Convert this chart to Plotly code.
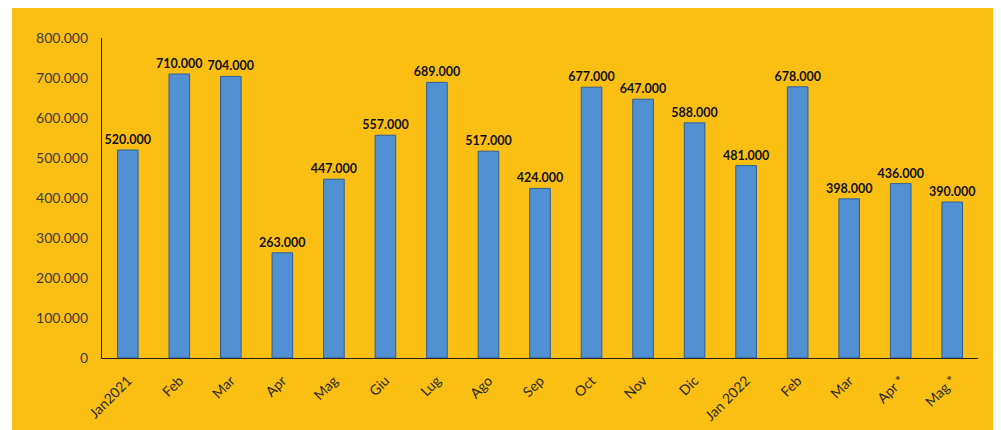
import plotly.graph_objects as go

mesi = ["Jan2021", "Feb", "Mar", "Apr", "Mag", "Giu", "Lug", "Ago", "Sep",
        "Oct", "Nov", "Dic", "Jan 2022", "Feb", "Mar", "Apr *", "Mag *"]
valori = [520000, 710000, 704000, 263000, 447000, 557000, 689000, 517000, 424000,
          677000, 647000, 588000, 481000, 678000, 398000, 436000, 390000]

# categorie uniche (Feb/Mar/Apr/Mag si ripetono) -> posizioni numeriche
x_pos = list(range(len(mesi)))

fig = go.Figure(data=[
    go.Bar(
        x=x_pos,
        y=valori,
        width=0.4,
        marker_color='#5090D3',
        marker_line_color='#2F5E96',
        marker_line_width=1,
        text=valori,
        texttemplate='%{y:,.0f}',
        textposition='outside',
        constraintext='none',
        cliponaxis=False,
        textfont=dict(family='Lato', size=12.5, color='#111111', weight='bold'),
    )])

# sfondo arancione (con bordo bianco a sinistra e in alto)
fig.add_shape(type='rect', xref='paper', yref='paper', layer='below',
              x0=-0.1027, x1=1.0194, y0=-0.3, y1=1.12,
              fillcolor='#FBBF14', line_width=0)

fig.update_layout(
    width=1001, height=430,
    separators=',.',
    paper_bgcolor='white',
    plot_bgcolor='rgba(0,0,0,0)',
    margin=dict(l=94, r=31, t=30, b=80),
    showlegend=False,
    font=dict(family='Lato', color='#333333'),
    xaxis=dict(
        tickmode='array', tickvals=x_pos, ticktext=mesi,
        range=[-0.5, len(mesi) - 0.5],
        tickangle=-45, tickfont=dict(size=14, color='#2a2a2a'),
        showgrid=False, showline=True, linecolor='#222222', linewidth=1.2,
        ticks='', ticklabelstandoff=8, automargin=False,
    ),
    yaxis=dict(
        range=[0, 800000], dtick=100000, tickformat=',.0f',
        tickfont=dict(size=14, color='#3a3a3a'),
        showgrid=False, showline=True, linecolor='#222222', linewidth=1.2,
        ticks='', ticklabelstandoff=10, zeroline=False, automargin=False,
    ),
)

fig.write_html("out.html")
